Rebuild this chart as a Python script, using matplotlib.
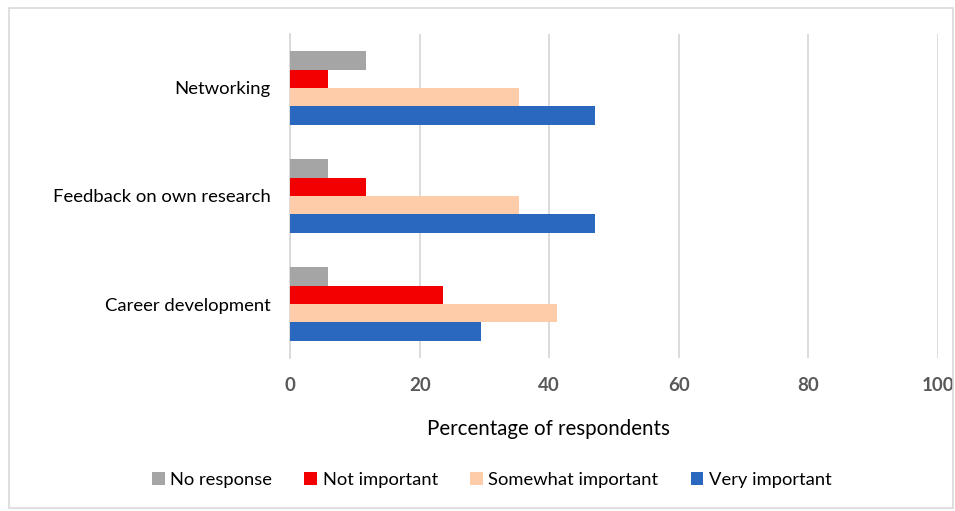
import matplotlib.pyplot as plt
from matplotlib.patches import Rectangle
import numpy as np

plt.rcParams['font.family'] = ['Lato', 'DejaVu Sans']

categories = ['Networking', 'Feedback on own research', 'Career development']
series = ['No response', 'Not important', 'Somewhat important', 'Very important']
values = {
    'No response': [11.76, 5.88, 5.88],
    'Not important': [5.88, 11.76, 23.53],
    'Somewhat important': [35.29, 35.29, 41.18],
    'Very important': [47.06, 47.06, 29.41],
}
colors = ['#A5A5A5', '#F20000', '#FFCCAA', '#2A67BF']

fig = plt.figure(figsize=(9.55, 5.11), dpi=100)
ax = fig.add_axes([0.3037, 0.2994, 0.6785, 0.6341])

# outer frame like the excel chart area
fig.patches.append(Rectangle((9/955, 3/511), 944/955, 500/511, transform=fig.transFigure,
                             fill=False, edgecolor='#d9d9d9', linewidth=1.2))

ypos = np.arange(len(categories))[::-1]
h = 0.17
offsets = [1.5, 0.5, -0.5, -1.5]
for s, c, off in zip(series, colors, offsets):
    ax.barh(ypos + off * h, values[s], height=h, color=c, label=s, zorder=3)

ax.set_xlim(0, 100)
ax.set_ylim(-0.5, 2.5)
ax.set_xticks(np.arange(0, 101, 20))
ax.set_yticks(ypos)
ax.set_yticklabels(categories, fontsize=13.3)
ax.tick_params(length=0)
ax.tick_params(axis='y', pad=14)
ax.tick_params(axis='x', pad=14)
for t in ax.get_xticklabels():
    t.set_fontsize(13.5)
    t.set_fontweight('bold')
    t.set_color('#595959')

ax.grid(axis='x', color='#d9d9d9', linewidth=1.3, zorder=0)
for sp in ['top', 'right', 'bottom']:
    ax.spines[sp].set_visible(False)
ax.spines['left'].set_color('#d9d9d9')
ax.spines['left'].set_linewidth(1.3)

fig.text(548/955, 1 - 429/511, 'Percentage of respondents', fontsize=14.8,
         ha='center', va='center')

fig.legend(loc='center', bbox_to_anchor=(0.515, 0.061), ncol=4, frameon=False,
           fontsize=13.2, handlelength=0.7, handleheight=0.7, handletextpad=0.3,
           columnspacing=1.75)

plt.savefig('out.png', dpi=100)
